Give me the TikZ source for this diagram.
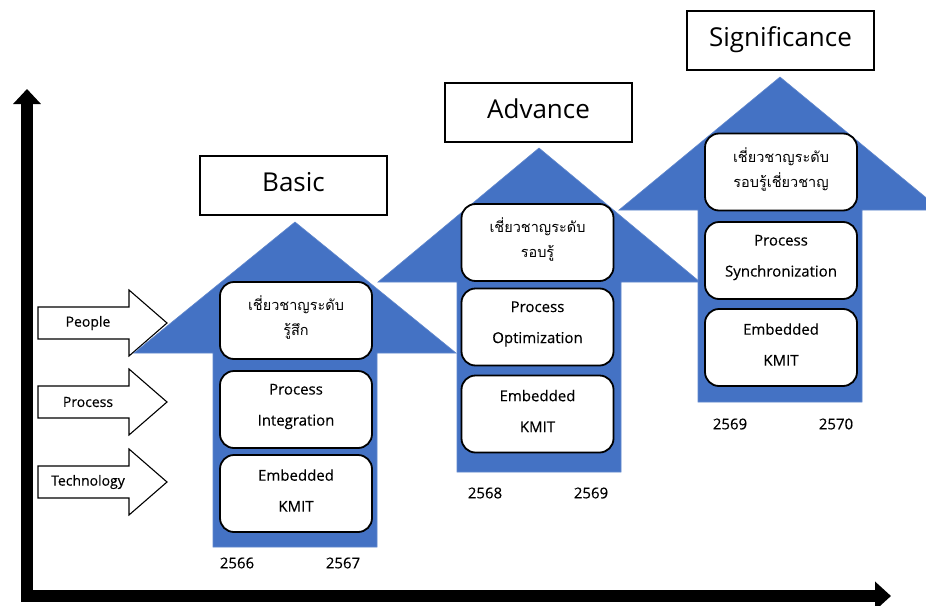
\documentclass[tikz,border=0pt]{standalone}
\usepackage{fontspec}
\setmainfont{Open Sans}
\newfontfamily\medfont{Open Sans}[FakeBold=0.35]
\newfontfamily\thaifont[Script=Thai]{Loma}
\usetikzlibrary{arrows.meta}
\definecolor{arrowblue}{HTML}{4472C4}
\tikzset{
  bigarrow/.style={fill=arrowblue, draw=arrowblue!85!white, line width=0.6pt},
  sidearrow/.style={draw=black, fill=white, line width=1.1pt, line join=miter},
  sidelabel/.style={font=\medfont\fontsize{14}{16}\selectfont, inner sep=0pt},
  titlebox/.style={draw=black, fill=white, line width=1.4pt, minimum width=187pt, minimum height=59pt, inner sep=0pt, text height=20pt, text depth=8.4pt, font=\fontsize{26}{30}\selectfont},
  stagebox/.style={draw=black, fill=white, line width=1.8pt, rounded corners=14pt, minimum width=152pt, minimum height=77pt, inner sep=0pt},
  entext/.style={font=\medfont\fontsize{15}{31}\selectfont, align=center, inner sep=0pt},
  thtext/.style={font=\thaifont\fontsize{14.5}{25}\selectfont, align=center, inner sep=0pt},
  yearlabel/.style={font=\medfont\fontsize{15}{16}\selectfont, inner sep=0pt},
  axis/.style={line width=12pt, line join=miter, {Triangle[width=27pt,length=15pt]}-{Triangle[width=28pt,length=16pt]}}
}
\newcommand{\stagearrow}[4]{% centre x, tip y, head base y, bottom y
  \fill[bigarrow] (#1,#2) -- (#1+161,#3) -- (#1+82,#3) -- (#1+82,#4) -- (#1-82,#4) -- (#1-82,#3) -- (#1-161,#3) -- cycle;}
\newcommand{\sidearrowshape}[3]{% centre y, name, text
  \draw[sidearrow] (38,#1-16) -- (129,#1-16) -- (129,#1-33) -- (167,#1) -- (129,#1+33) -- (129,#1+16) -- (38,#1+16) -- cycle;
  \node[sidelabel] (#2) at (88,#1) {#3};}
\newcommand{\stage}[5]{% name, x, y, style, text
  \node[stagebox] (#1) at (#2,#3) {};
  \node[#4] (#1text) at ([yshift=3pt]#1.center) {#5};}
\begin{document}
\begin{tikzpicture}[x=1pt, y=-1pt]
\clip (0,0) rectangle (926,605);
\fill[white] (0,0) rectangle (926,605);

% axes
\coordinate (ytop) at (27,89);
\coordinate (origin) at (27,596);
\coordinate (xend) at (891,596);
\draw[axis] (ytop) -- (origin) -- (xend);

% side arrows
\sidearrowshape{323}{people}{People}
\sidearrowshape{402}{process}{Process}
\sidearrowshape{482}{technology}{Technology}

% big blue arrows
\stagearrow{295}{222}{353}{547}
\stagearrow{539}{148}{282}{472}
\stagearrow{780}{77}{210}{402}

% titles
\node[titlebox] (basic) at (293.5,185.5) {Basic};
\node[titlebox] (advance) at (538.5,112.5) {Advance};
\node[titlebox] (significance) at (780.5,40.5) {Significance};

% stage 1
\stage{b1}{296}{320.5}{thtext}{เชี่ยวชาญระดับ\\รู้สึก}
\stage{b2}{296}{409.5}{entext}{Process\\Integration}
\stage{b3}{296}{493.5}{entext}{Embedded\\KMIT}

% stage 2
\stage{a1}{537.5}{242.5}{thtext}{เชี่ยวชาญระดับ\\รอบรู้}
\stage{a2}{537.5}{327}{entext}{Process\\Optimization}
\stage{a3}{537.5}{414}{entext}{Embedded\\KMIT}

% stage 3
\stage{s1}{781}{172}{thtext}{เชี่ยวชาญระดับ\\รอบรู้เชี่ยวชาญ}
\stage{s2}{781}{260.5}{entext}{Process\\Synchronization}
\stage{s3}{781}{347.5}{entext}{Embedded\\KMIT}

% years
\node[yearlabel] (y2566) at (237,563) {2566};
\node[yearlabel] (y2567) at (343,563) {2567};
\node[yearlabel] (y2568) at (485,493) {2568};
\node[yearlabel] (y2569a) at (591,493) {2569};
\node[yearlabel] (y2569b) at (730,424) {2569};
\node[yearlabel] (y2570) at (836,424) {2570};
\end{tikzpicture}
\end{document}
